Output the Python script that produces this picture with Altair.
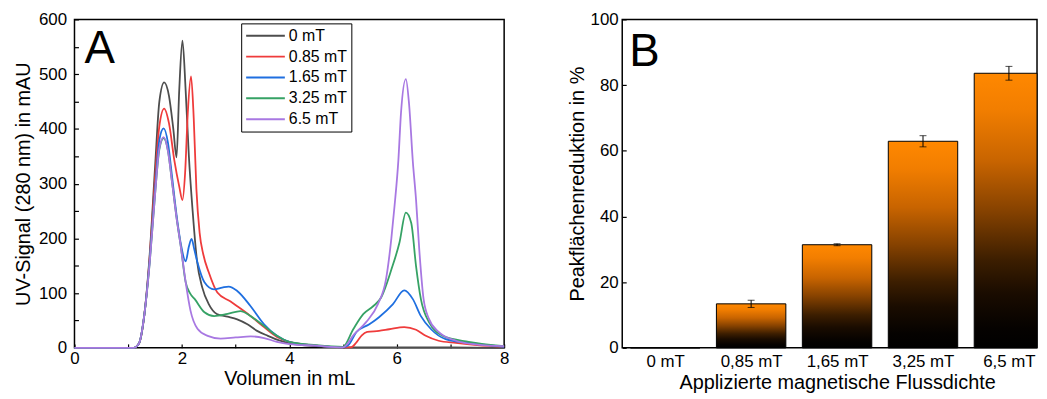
import altair as alt
import pandas as pd

FONT = "Liberation Sans"

# ---------------- Panel A data ----------------
series_names = ["0 mT", "0.85 mT", "1.65 mT", "3.25 mT", "6.5 mT"]
series_colors = ["#4d4d4d", "#ef3b3b", "#1f6fe0", "#36a265", "#a878e2"]

x_0mT = [0, 1.1, 1.2, 1.3, 1.4, 1.5, 1.58, 1.67, 1.76, 1.84, 1.9, 1.95, 2.01, 2.07, 2.13, 2.2, 2.28,
         2.38, 2.5, 2.65, 2.85, 3.03, 3.22, 3.4, 3.6, 3.83, 4.0, 4.5, 5.0, 6.0, 7.0, 8.0]
y_0mT = [0, 0, 8, 60, 170, 330, 450, 485, 460, 400, 348, 470, 561, 470, 350, 250, 160,
         110, 80, 62, 57, 52, 43, 31, 22, 13, 8, 3, 1, 1, 1, 0]

x_085mT = [0, 1.1, 1.2, 1.3, 1.4, 1.5, 1.58, 1.67, 1.76, 1.86, 1.95, 2.01, 2.06, 2.11, 2.17, 2.22,
           2.27, 2.33, 2.4, 2.5, 2.66, 2.9, 3.03, 3.28, 3.53, 3.77, 4.0, 4.5, 5.0, 5.15, 5.25,
           5.35, 5.45, 5.67, 5.86, 6.14, 6.36, 6.54, 6.78, 7.1, 7.5, 8.0]
y_085mT = [0, 0, 8, 60, 165, 310, 405, 437, 410, 342, 295, 270, 320, 430, 496, 420,
           290, 210, 170, 138, 101, 85, 76, 58, 38, 20, 11, 4, 1, 1, 10,
           23, 29, 31, 34, 38, 33, 22, 13, 9, 5, 2]

x_165mT = [0, 1.1, 1.2, 1.3, 1.4, 1.5, 1.58, 1.66, 1.74, 1.82, 1.9, 1.98, 2.07, 2.13, 2.18, 2.23,
           2.29, 2.42, 2.6, 2.75, 2.87, 3.03, 3.28, 3.53, 3.77, 4.0, 4.5, 5.0, 5.1, 5.25, 5.49,
           5.67, 5.93, 6.14, 6.3, 6.45, 6.64, 6.91, 7.34, 8.0]
y_165mT = [0, 0, 8, 60, 160, 290, 380, 401, 375, 310, 243, 190, 158, 185, 199, 180,
           156, 120, 107, 110, 112, 104, 76, 43, 22, 11, 4, 1, 5, 29, 43,
           56, 80, 105, 89, 58, 34, 16, 9, 2]

x_325mT = [0, 1.1, 1.2, 1.3, 1.4, 1.5, 1.58, 1.66, 1.74, 1.82, 1.9, 1.98, 2.07, 2.15, 2.24, 2.42,
           2.6, 2.85, 3.09, 3.28, 3.53, 3.77, 4.0, 4.5, 5.0, 5.19, 5.38, 5.56, 5.71, 5.9, 6.05,
           6.17, 6.27, 6.36, 6.45, 6.6, 6.86, 7.34, 8.0]
y_325mT = [0, 0, 8, 60, 155, 280, 362, 383, 360, 300, 238, 185, 120, 100, 89, 65,
           58, 62, 67, 58, 40, 22, 11, 5, 2, 34, 62, 76, 92, 143, 192,
           247, 228, 149, 89, 47, 22, 11, 3]

x_65mT = [0, 1.1, 1.2, 1.3, 1.4, 1.5, 1.58, 1.66, 1.74, 1.82, 1.9, 1.98, 2.07, 2.16, 2.29, 2.48,
          2.72, 3.0, 3.28, 3.53, 3.77, 4.0, 4.5, 5.0, 5.21, 5.43, 5.65, 5.8, 5.9, 5.96, 6.03,
          6.08, 6.17, 6.23, 6.3, 6.36, 6.42, 6.5, 6.6, 6.78, 7.1, 7.5, 8.0]
y_65mT = [0, 0, 8, 60, 155, 280, 365, 385, 360, 300, 238, 185, 120, 68, 35, 22,
          17, 19, 21, 18, 11, 7, 4, 1, 25, 47, 80, 125, 200, 260, 342,
          430, 491, 445, 340, 270, 179, 89, 53, 29, 13, 6, 3]

series_x = [x_0mT, x_085mT, x_165mT, x_325mT, x_65mT]
series_y = [y_0mT, y_085mT, y_165mT, y_325mT, y_65mT]

# ---------------- Panel B data ----------------
bar_labels = ["0 mT", "0,85 mT", "1,65 mT", "3,25 mT", "6,5 mT"]
bar_values = [0, 13.4, 31.4, 62.9, 83.6]
bar_errors = [0, 1.1, 0.3, 1.7, 2.1]

# ---------------- tables ----------------
rows = []
for name, xs, ys in zip(series_names, series_x, series_y):
    for order, (xv, yv) in enumerate(zip(xs, ys)):
        rows.append({"Volumen": xv, "Signal": yv, "Serie": name, "order": order})
lines_df = pd.DataFrame(rows)

bars_df = pd.DataFrame({
    "idx": list(range(len(bar_labels))),
    "label": bar_labels,
    "value": bar_values,
    "err": bar_errors,
})

W_A, H = 433, 331
W_B = 418            # panel B is cut off at the right edge of the picture
BAND = 433 / 5.0
X_MAX_B = -0.5 + W_B / BAND

# ---------------- Panel A ----------------
xA = alt.X("Volumen:Q",
           scale=alt.Scale(domain=[0, 8], nice=False),
           axis=alt.Axis(values=list(range(0, 9)),
                         labelExpr="datum.value % 2 == 0 ? datum.label : ''",
                         title="Volumen in mL", grid=False, domain=False,
                         tickSize=4, offset=-4, labelPadding=3, labelFlush=False,
                         labelOverlap=False, titlePadding=2))
yA = alt.Y("Signal:Q",
           scale=alt.Scale(domain=[0, 600], nice=False),
           axis=alt.Axis(values=list(range(0, 601, 50)),
                         labelExpr="datum.value % 100 == 0 ? datum.label : ''",
                         title="UV-Signal (280 nm) in mAU", grid=False, domain=False,
                         tickSize=4, offset=-4, labelPadding=8, labelFlush=False,
                         labelOverlap=False, titlePadding=5))

lines = alt.Chart(lines_df).mark_line(strokeWidth=1.8, interpolate="monotone").encode(
    x=xA, y=yA,
    color=alt.Color("Serie:N",
                    scale=alt.Scale(domain=series_names, range=series_colors),
                    sort=series_names,
                    legend=alt.Legend(title=None, orient="none", legendX=168, legendY=4,
                                      symbolType="M-1,0H4.2", symbolSize=225,
                                      symbolStrokeWidth=2, labelFontSize=16,
                                      labelOffset=27, rowPadding=4, padding=4,
                                      strokeColor="black", fillColor="white")),
    order="order:Q",
)

labelA = alt.Chart(pd.DataFrame({"t": ["A"]})).mark_text(
    fontSize=46, align="left", baseline="alphabetic", font=FONT, color="black"
).encode(text="t:N", x=alt.value(10), y=alt.value(44))

panelA = alt.layer(lines, labelA).properties(width=W_A, height=H)

# ---------------- Panel B ----------------
label_array = "[" + ",".join("'" + s + "'" for s in bar_labels) + "]"

xB = alt.X("x_lo:Q",
           scale=alt.Scale(domain=[-0.5, X_MAX_B], nice=False, zero=False),
           axis=alt.Axis(values=list(range(len(bar_labels))),
                         labelExpr=label_array + "[datum.value]",
                         title="Applizierte magnetische Flussdichte",
                         titleX=433 / 2.0, grid=False, domain=False, ticks=False,
                         labelPadding=6, labelFlush=False, titlePadding=3))
yB = alt.Y("value:Q",
           scale=alt.Scale(domain=[0, 100], nice=False),
           axis=alt.Axis(values=list(range(0, 101, 10)),
                         labelExpr="datum.value % 20 == 0 ? datum.label : ''",
                         title="Peakflächenreduktion in %", grid=False, domain=False,
                         tickSize=4, offset=-4, labelPadding=4, labelFlush=False,
                         labelOverlap=False, titlePadding=3))

gradient = alt.Gradient(
    gradient="linear",
    stops=[alt.GradientStop(color="#000000", offset=0),
           alt.GradientStop(color="#050200", offset=0.07),
           alt.GradientStop(color="#1a0c00", offset=0.2),
           alt.GradientStop(color="#3c1e00", offset=0.32),
           alt.GradientStop(color="#864200", offset=0.5),
           alt.GradientStop(color="#c86400", offset=0.68),
           alt.GradientStop(color="#f27e00", offset=0.87),
           alt.GradientStop(color="#ff8800", offset=1)],
    x1=0, x2=0, y1=1, y2=0)

base = alt.Chart(bars_df).transform_calculate(
    x_lo="datum.idx - 0.404",
    x_hi="min(datum.idx + 0.404, %.4f)" % X_MAX_B,
    lo="datum.value - datum.err", hi="datum.value + datum.err",
    zero="0")

bars = base.mark_rect(color=gradient, stroke="black", strokeWidth=1).encode(
    x=xB, x2="x_hi:Q", y=yB, y2="zero:Q")

err = base.transform_filter("datum.err > 0").mark_rule(color="black", strokeWidth=1).encode(
    x="idx:Q", y="lo:Q", y2="hi:Q")
caps_lo = base.transform_filter("datum.err > 0").mark_tick(
    color="black", orient="horizontal", size=7, thickness=1).encode(x="idx:Q", y="lo:Q")
caps_hi = base.transform_filter("datum.err > 0").mark_tick(
    color="black", orient="horizontal", size=7, thickness=1).encode(x="idx:Q", y="hi:Q")

labelB = alt.Chart(pd.DataFrame({"t": ["B"]})).mark_text(
    fontSize=46, align="left", baseline="alphabetic", font=FONT, color="black"
).encode(text="t:N", x=alt.value(7), y=alt.value(47))

panelB = alt.layer(bars, err, caps_lo, caps_hi, labelB).properties(width=W_B, height=H)

chart = alt.hconcat(panelA, panelB, spacing=56).properties(
    padding={"left": 4, "top": 0, "right": 0, "bottom": 0}
).configure(font=FONT).configure_view(
    stroke="black", strokeWidth=1.5
).configure_axis(
    labelFont=FONT, titleFont=FONT, labelFontSize=17, titleFontSize=20,
    labelColor="black", titleColor="black", tickColor="black", tickWidth=1.2,
    titleFontWeight="normal"
).configure_legend(labelFont=FONT, labelColor="black")

chart.save("out.html", embed_options={"renderer": "svg", "actions": False})
